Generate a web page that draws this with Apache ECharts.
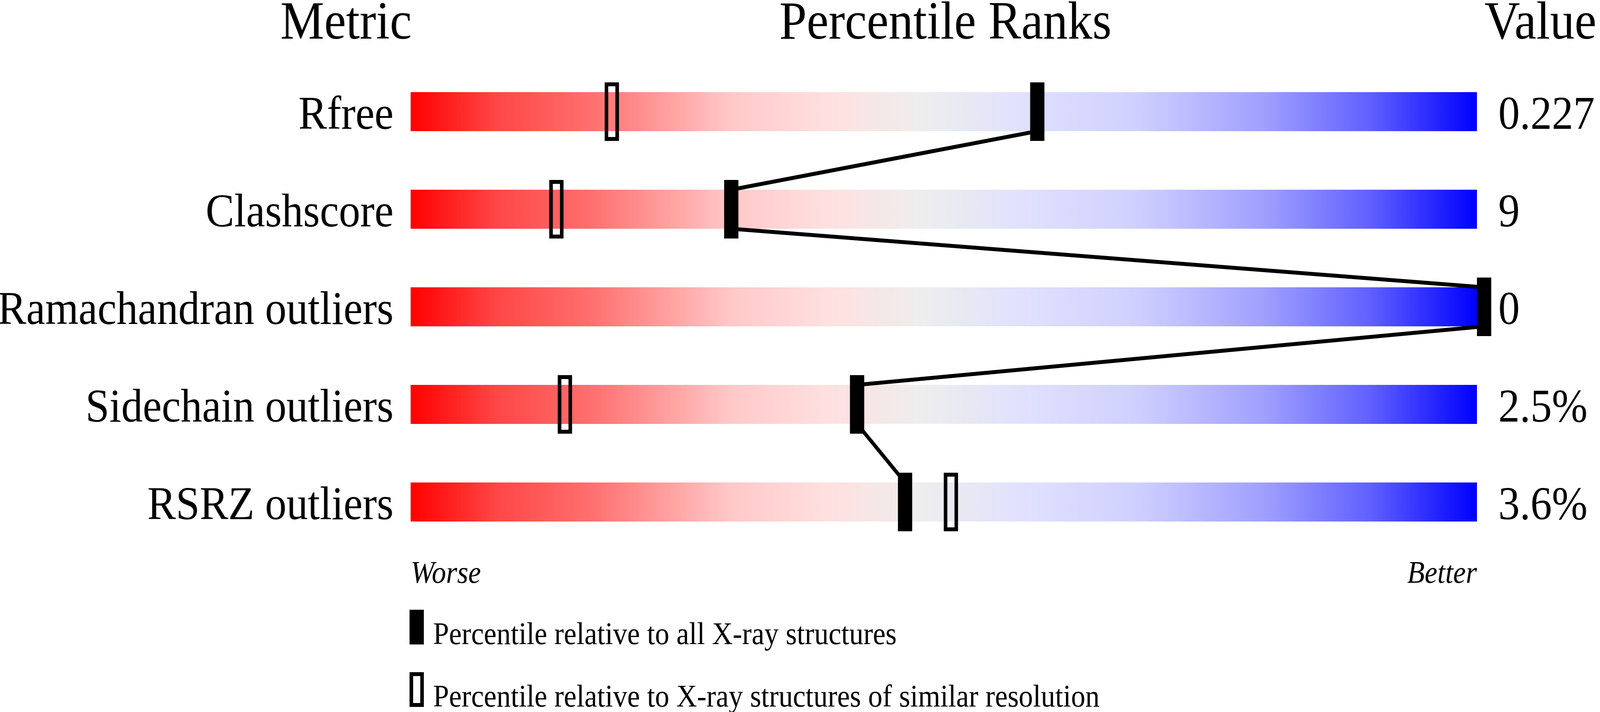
<!DOCTYPE html>
<html><head><meta charset="utf-8">
<script src="https://cdn.jsdelivr.net/npm/echarts@6/dist/echarts.min.js"></script>
<style>html,body{margin:0;padding:0;background:#fff;overflow:hidden}#c{width:4485px;height:1824px;transform-origin:0 0}</style>
</head><body><div id="c"></div>
<script>
const metrics = ['Rfree', 'Clashscore', 'Ramachandran outliers', 'Sidechain outliers', 'RSRZ outliers'];
const valueLabels = ['0.227', '9', '0', '2.5%', '3.6%'];
const pctAll = [58.1, 29.4, 100, 41.2, 45.7];
const pctSimilar = [18.2, 13.0, 100, 13.8, 50.0];
const scaleEnds = ['Worse', 'Better'];
const headers = ['Metric', 'Percentile Ranks', 'Value'];
const legendNames = ['Percentile relative to all X-ray structures', 'Percentile relative to X-ray structures of similar resolution'];

const FONT = 'Liberation Serif';
const headerX = [970, 2650, 4318];
const MW = 40, MH = 150, BH = 100, BW = 10;
const LABEL_DY = 12;

const el = document.getElementById('c');
const sx = window.innerWidth / 4485, sy = window.innerHeight / 1824;
if (sx > 0 && sy > 0 && (Math.abs(sx - 1) > 0.001 || Math.abs(sy - 1) > 0.001)) {
  el.style.transform = 'scale(' + sx + ',' + sy + ')';
}

const chart = echarts.init(el, null, {renderer: 'canvas'});

const grad = new echarts.graphic.LinearGradient(0, 0, 1, 0, [
  {offset: 0, color: 'rgb(255,0,0)'},
  {offset: 0.08, color: 'rgb(255,70,70)'},
  {offset: 0.17, color: 'rgb(255,112,112)'},
  {offset: 0.30, color: 'rgb(255,200,200)'},
  {offset: 0.39, color: 'rgb(255,224,224)'},
  {offset: 0.48, color: 'rgb(238,238,238)'},
  {offset: 0.58, color: 'rgb(224,224,255)'},
  {offset: 0.68, color: 'rgb(208,208,255)'},
  {offset: 0.80, color: 'rgb(160,160,255)'},
  {offset: 0.90, color: 'rgb(96,96,255)'},
  {offset: 1, color: 'rgb(0,0,255)'}
]);

function markerRender(filled) {
  return function (params, api) {
    const p = api.coord([api.value(0), api.value(1)]);
    if (filled) {
      return {type: 'rect', shape: {x: p[0], y: p[1] - MH / 2, width: MW, height: MH},
        style: {fill: '#000', stroke: null}};
    }
    return {type: 'rect', shape: {x: p[0] + BW / 2, y: p[1] - MH / 2 + BW / 2, width: MW - BW, height: MH - BW},
      style: {fill: null, stroke: '#000', lineWidth: BW}};
  };
}

const segData = pctAll.slice(0, -1).map((v, i) => [v, i, pctAll[i + 1], i + 1]);

// legend drawn as graphic: icon box + label, one per marker kind
const legendTop = [1567, 1727];
const legendGraphics = [];
legendNames.forEach((name, i) => {
  legendGraphics.push({
    type: 'rect', shape: {x: 1153, y: legendTop[i], width: MW - BW, height: 79},
    style: {fill: i === 0 ? '#000' : null, stroke: '#000', lineWidth: BW}
  });
  legendGraphics.push({
    type: 'text', x: 1214, y: legendTop[i] + 62,
    style: {text: name, fontSize: 80, fontFamily: FONT, fill: '#000', textAlign: 'left', verticalAlign: 'middle', textVerticalAlign: 'middle'}
  });
});

const headerGraphics = headers.map((t, i) => ({
  type: 'text', x: headerX[i], y: 63,
  style: {text: t, fontSize: 138, fontFamily: FONT, fill: '#000', textAlign: 'center', textVerticalAlign: 'middle', verticalAlign: 'middle'}
}));

const hiddenAxis = {axisLine: {show: false}, axisTick: {show: false}, splitLine: {show: false}};

const option = {
  animation: false,
  backgroundColor: '#fff',
  grid: [
    {left: 1151, right: 345, top: 161, bottom: 413, containLabel: false, outerBoundsMode: 'none'},
    {left: 1151, right: 345, top: 161 + LABEL_DY, bottom: 413 - LABEL_DY, containLabel: false, outerBoundsMode: 'none'}
  ],
  xAxis: [{
    type: 'value', min: 0, max: 100, interval: 100, gridIndex: 0,
    axisLine: {show: false}, axisTick: {show: false}, splitLine: {show: false},
    axisLabel: {
      show: true, showMinLabel: true, showMaxLabel: true,
      alignMinLabel: 'left', alignMaxLabel: 'right',
      margin: 21, fontSize: 80, fontStyle: 'italic', fontFamily: FONT, color: '#000',
      formatter: v => v === 0 ? scaleEnds[0] : (v === 100 ? scaleEnds[1] : '')
    }
  }, {
    type: 'value', min: 0, max: 100, gridIndex: 1, show: false
  }],
  yAxis: [{
    type: 'category', data: metrics, inverse: true, gridIndex: 1,
    axisLine: {show: false}, axisTick: {show: false}, splitLine: {show: false},
    axisLabel: {margin: 48, fontSize: 120, fontFamily: FONT, color: '#000', padding: [74, 0, 0, 0]}
  }, {
    type: 'category', data: valueLabels, inverse: true, position: 'right', gridIndex: 1,
    axisLine: {show: false}, axisTick: {show: false}, splitLine: {show: false},
    axisLabel: {margin: 60, fontSize: 120, fontFamily: FONT, color: '#000', align: 'left', padding: [74, 0, 0, 0]}
  }, Object.assign({
    type: 'category', data: metrics, inverse: true, gridIndex: 0, axisLabel: {show: false}
  }, hiddenAxis)],
  graphic: headerGraphics.concat(legendGraphics),
  series: [
    {
      type: 'bar', name: 'scale', data: metrics.map(() => 100), barWidth: BH, silent: true, z: 1,
      xAxisIndex: 0, yAxisIndex: 2,
      itemStyle: {color: grad}
    },
    {
      type: 'custom', name: legendNames[1], z: 2, clip: false, silent: true,
      xAxisIndex: 0, yAxisIndex: 2,
      data: pctSimilar.map((v, i) => [v, i]),
      renderItem: markerRender(false)
    },
    {
      type: 'custom', name: 'links', z: 3, clip: false, silent: true,
      xAxisIndex: 0, yAxisIndex: 2,
      data: segData,
      renderItem: function (params, api) {
        const p1 = api.coord([api.value(0), api.value(1)]);
        const p2 = api.coord([api.value(2), api.value(3)]);
        return {type: 'line', shape: {x1: p1[0] + MW / 2, y1: p1[1] + BH / 2, x2: p2[0] + MW / 2, y2: p2[1] - BH / 2},
          style: {stroke: '#000', lineWidth: BW, fill: null}};
      }
    },
    {
      type: 'custom', name: legendNames[0], z: 4, clip: false, silent: true,
      xAxisIndex: 0, yAxisIndex: 2,
      data: pctAll.map((v, i) => [v, i]),
      renderItem: markerRender(true)
    }
  ]
};
chart.setOption(option);
</script></body></html>
